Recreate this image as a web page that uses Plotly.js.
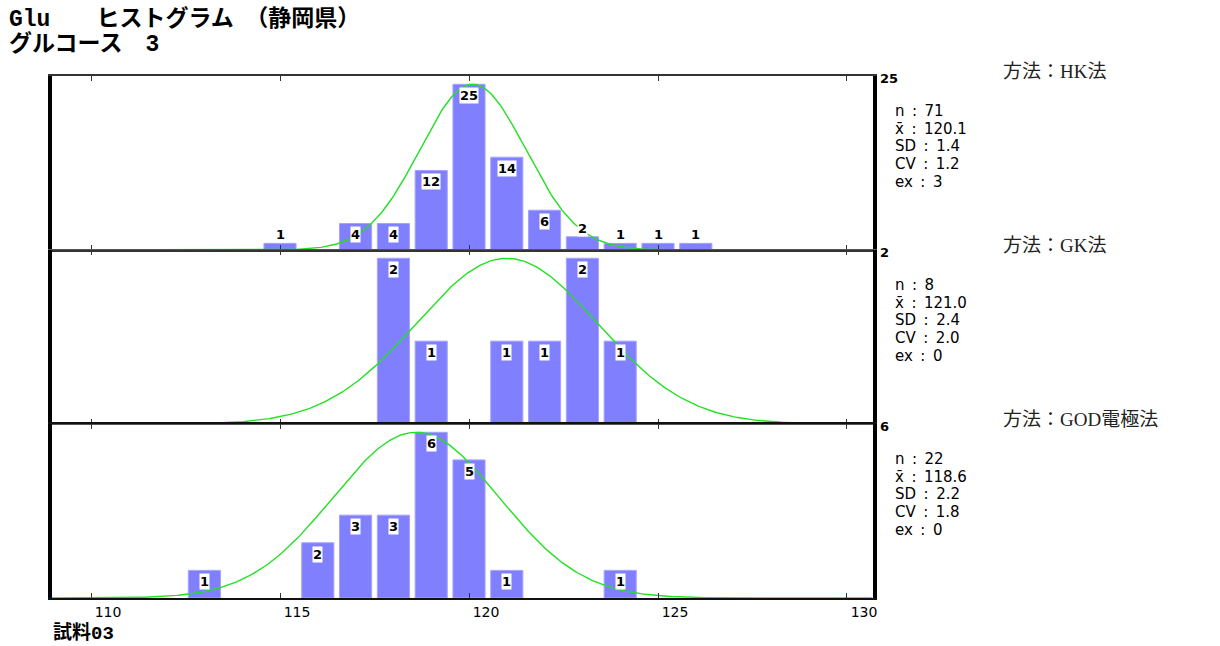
<!DOCTYPE html>
<html>
<head>
<meta charset="utf-8">
<script src="https://cdn.plot.ly/plotly-3.0.1.min.js"></script>
<style>
html,body{margin:0;padding:0;background:#ffffff;}
#chart{width:1220px;height:646px;}
</style>
</head>
<body>
<div id="chart"></div>
<script>
// ---- data ----
const titleLine1 = 'Glu　　ヒストグラム　（静岡県）';
const titleLine2 = 'グルコース　3';
const sampleLabel = '試料03';
const methodNames = ['方法：HK法', '方法：GK法', '方法：GOD電極法'];

const hkValues  = [115, 117, 118, 119, 120, 121, 122, 123, 124, 125, 126];
const hkCounts  = [1, 4, 4, 12, 25, 14, 6, 2, 1, 1, 1];
const gkValues  = [118, 119, 121, 122, 123, 124];
const gkCounts  = [2, 1, 1, 1, 2, 1];
const godValues = [113, 116, 117, 118, 119, 120, 121, 124];
const godCounts = [1, 2, 3, 3, 6, 5, 1, 1];

const statN    = [71, 8, 22];
const statMean = [120.1, 121.0, 118.6];
const statSD   = [1.4, 2.4, 2.2];
const statCV   = [1.2, 2.0, 1.8];
const statEx   = [3, 0, 0];

const xTickVals = [110, 115, 120, 125, 130];

// ---- layout constants ----
const W = 1220, H = 646;
const M = {l: 52, r: 347, t: 76, b: 48};
const plotW = W - M.l - M.r;
const plotH = H - M.t - M.b;
const xRange = [108.968, 130.688];
const panelH = plotH / 3;

const allValues = [hkValues, gkValues, godValues];
const allCounts = [hkCounts, gkCounts, godCounts];
const suffix = ['', '2', '3'];
const yDomains = [[2/3, 1], [1/3, 2/3], [0, 1/3]];
const xLineWidth = [2, 1, 2];
const xLineColor = ['#333333', '#555555', '#111111'];

const numFont = 'DejaVu Sans, Liberation Sans, sans-serif';
const sp = '\u2002';
const traces = [];
const annotations = [];
const layout = {
  width: W, height: H,
  margin: M,
  paper_bgcolor: '#ffffff',
  plot_bgcolor: '#ffffff',
  showlegend: false,
  bargap: 0,
  font: {family: numFont, color: '#000000'}
};

for (let i = 0; i < 3; i++) {
  const s = suffix[i];
  const xs = allValues[i], cs = allCounts[i];
  const maxC = Math.max(...cs);
  const yTop = maxC * 1.05;

  traces.push({
    type: 'bar', x: xs, y: cs, width: 0.85,
    xaxis: 'x' + s, yaxis: 'y' + s,
    marker: {color: '#8080ff', line: {color: '#a4a4ff', width: 1}},
    hoverinfo: 'skip'
  });

  // fitted normal curve (mean / SD from the statistics), scaled to the highest bar
  const cx = [], cy = [];
  for (let x = xRange[0]; x <= xRange[1] + 1e-9; x += 0.05) {
    const z = (x - statMean[i]) / statSD[i];
    cx.push(x);
    cy.push(maxC * Math.exp(-0.5 * z * z));
  }
  traces.push({
    type: 'scatter', mode: 'lines', x: cx, y: cy,
    xaxis: 'x' + s, yaxis: 'y' + s,
    line: {color: '#22e022', width: 1.4},
    hoverinfo: 'skip'
  });

  const isBottom = (i === 2);
  layout['xaxis' + s] = {
    anchor: 'y' + s,
    domain: [0, 1],
    range: xRange,
    tickmode: 'array',
    tickvals: xTickVals,
    ticktext: xTickVals.map(String),
    ticks: 'inside', ticklen: 5, tickwidth: 1, tickcolor: '#333333',
    showticklabels: isBottom,
    tickfont: {family: numFont, size: 14, color: '#000000'},
    ticklabelshift: 17,
    showline: true, linecolor: xLineColor[i], linewidth: xLineWidth[i],
    mirror: 'ticks',
    showgrid: false, zeroline: false, fixedrange: true
  };
  if (i > 0) layout['xaxis' + s].matches = 'x';
  layout['yaxis' + s] = {
    anchor: 'x' + s,
    domain: yDomains[i],
    range: [0, yTop],
    showline: true, linecolor: '#000000', linewidth: 4, mirror: true,
    ticks: '', showticklabels: false,
    showgrid: false, zeroline: false, fixedrange: true
  };

  // bar count labels
  for (let k = 0; k < xs.length; k++) {
    const v = cs[k];
    const hPx = v / yTop * panelH;
    const inside = hPx > 20;
    annotations.push({
      xref: 'x' + s, yref: 'y' + s,
      x: xs[k], y: v,
      text: String(v),
      showarrow: false,
      xanchor: 'center',
      yanchor: inside ? 'top' : 'bottom',
      yshift: inside ? -3 : 0,
      bgcolor: '#ffffff',
      borderpad: 0,
      font: {family: numFont, size: 13, weight: 700, color: '#000000'}
    });
  }

  // max value at top right of each panel
  annotations.push({
    xref: 'x' + s + ' domain', yref: 'y' + s + ' domain',
    x: 1, y: 1, xanchor: 'left', yanchor: 'middle',
    xshift: 5, yshift: -2,
    text: String(maxC), showarrow: false,
    font: {family: numFont, size: 13, weight: 700, color: '#000000'}
  });

  // method name
  annotations.push({
    xref: 'x' + s + ' domain', yref: 'y' + s + ' domain',
    x: 1, y: 1, xanchor: 'left', yanchor: 'middle',
    xshift: 128, yshift: 5,
    text: methodNames[i], showarrow: false,
    font: {family: 'Liberation Serif, Noto Sans CJK JP, serif', size: 19, color: '#222222'}
  });

  // statistics block
  const statLines = [
    'n' + sp + ':' + sp + statN[i],
    'x\u0304' + sp + ':' + sp + statMean[i].toFixed(1),
    'SD' + sp + ':' + sp + statSD[i].toFixed(1),
    'CV' + sp + ':' + sp + statCV[i].toFixed(1),
    'ex' + sp + ':' + sp + statEx[i]
  ];
  const lineOffsets = [35, 52.5, 70, 87.5, 106];
  for (let j = 0; j < statLines.length; j++) {
    annotations.push({
      xref: 'x' + s + ' domain', yref: 'y' + s + ' domain',
      x: 1, y: 1, xanchor: 'left', yanchor: 'middle',
      xshift: 20, yshift: -lineOffsets[j],
      text: statLines[j], showarrow: false,
      font: {family: numFont, size: 15, color: '#000000'}
    });
  }
}

// titles and footer (paper coordinates from pixel positions)
const px = p => (p - M.l) / plotW;
const py = p => (H - M.b - p) / plotH;
const titleFont = {family: 'Liberation Mono, Noto Sans CJK JP, monospace', size: 23, weight: 700, color: '#000000'};
annotations.push({xref: 'paper', yref: 'paper', x: px(7), y: py(19), xanchor: 'left', yanchor: 'middle',
  text: titleLine1, showarrow: false, font: titleFont});
annotations.push({xref: 'paper', yref: 'paper', x: px(7), y: py(44), xanchor: 'left', yanchor: 'middle',
  text: titleLine2, showarrow: false, font: titleFont});
annotations.push({xref: 'paper', yref: 'paper', x: px(51), y: py(633), xanchor: 'left', yanchor: 'middle',
  text: sampleLabel, showarrow: false,
  font: {family: 'Liberation Mono, Noto Sans CJK JP, monospace', size: 19, weight: 700, color: '#000000'}});

layout.annotations = annotations;

Plotly.newPlot('chart', traces, layout, {displayModeBar: false, staticPlot: true});
</script>
</body>
</html>
